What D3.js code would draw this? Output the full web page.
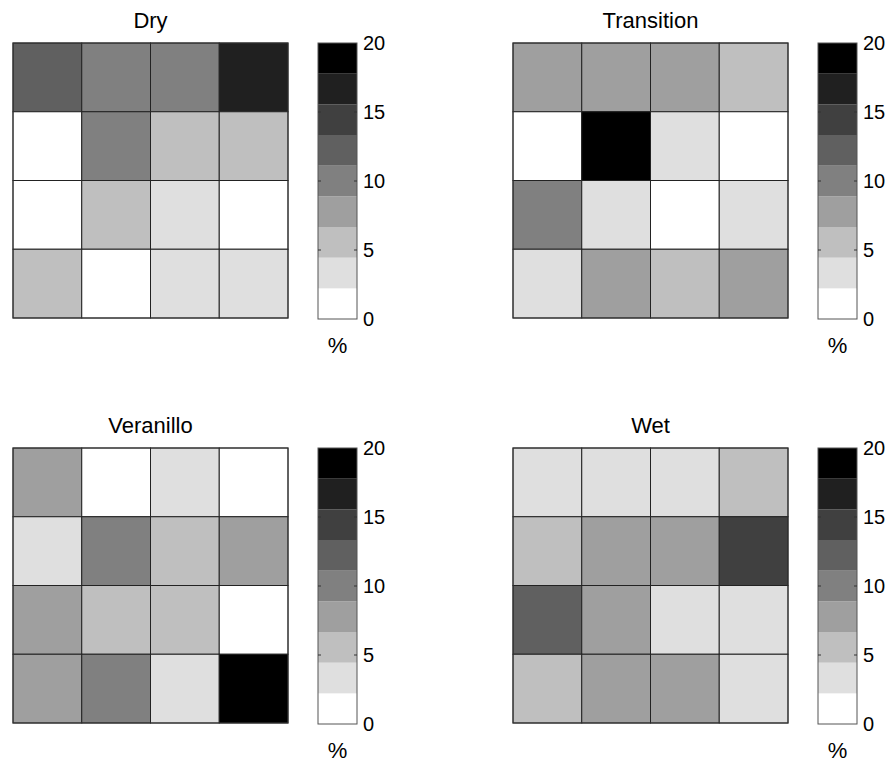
<!DOCTYPE html>
<html>
<head>
<meta charset="utf-8">
<script src="https://cdn.jsdelivr.net/npm/d3@7"></script>
<style>
  body { margin: 0; background: #fff; }
  text { font-family: "Liberation Sans", Arial, sans-serif; fill: #000; }
</style>
</head>
<body>
<div id="container"></div>
<script>
"use strict";

// percent values, rows top to bottom, columns left to right
const seasons = ["Dry", "Transition", "Veranillo", "Wet"];
const dry = [
  [12.0, 9.8, 10.3, 16.6],
  [0.9, 10.1, 5.4, 5.9],
  [1.5, 5.2, 3.1, 0.6],
  [5.0, 1.2, 3.4, 3.9]
];
const transition = [
  [7.6, 7.9, 8.1, 5.6],
  [0.8, 19.2, 3.3, 1.1],
  [9.9, 3.6, 0.7, 3.0],
  [3.5, 7.4, 5.8, 8.2]
];
const veranillo = [
  [7.8, 1.0, 3.2, 0.5],
  [3.7, 10.4, 5.5, 7.7],
  [8.0, 5.3, 6.0, 1.4],
  [7.5, 9.6, 3.4, 18.9]
];
const wet = [
  [3.4, 3.1, 3.6, 5.7],
  [6.1, 7.8, 8.3, 14.6],
  [12.4, 7.4, 3.2, 3.8],
  [5.5, 8.0, 7.9, 3.3]
];
const grids = [dry, transition, veranillo, wet];
const colorTicks = [0, 5, 10, 15, 20];

const W = 893, H = 762;
const svg = d3.select("#container").append("svg")
  .attr("width", W).attr("height", H);

// 9-step gray colormap, white at 0 to black at 20
const levels = 9;
const grays = d3.range(levels).map(function (i) {
  const v = Math.round(255 * (1 - i / (levels - 1)));
  return d3.rgb(v, v, v).toString();
});
const color = d3.scaleQuantize().domain([0, 20]).range(grays);

// panel origins (top-left of heat map)
const panelX = [13, 513];
const panelY = [43, 448];
const size = 275;
const cbGap = 30, cbW = 39;

grids.forEach(function (grid, k) {
  const ox = panelX[k % 2], oy = panelY[Math.floor(k / 2)];
  const g = svg.append("g").attr("transform", "translate(" + ox + "," + oy + ")");

  const x = d3.scaleBand().domain(d3.range(4)).range([0, size]);
  const y = d3.scaleBand().domain(d3.range(4)).range([0, size]);

  const cells = [];
  grid.forEach(function (row, r) {
    row.forEach(function (v, c) { cells.push({ r: r, c: c, v: v }); });
  });

  g.selectAll(".cell").data(cells).enter().append("rect")
    .attr("class", "cell")
    .attr("x", function (d) { return x(d.c); })
    .attr("y", function (d) { return y(d.r); })
    .attr("width", x.bandwidth())
    .attr("height", y.bandwidth())
    .attr("fill", function (d) { return color(d.v); })
    .attr("stroke", "#222")
    .attr("stroke-width", 1);

  g.append("rect")
    .attr("width", size).attr("height", size)
    .attr("fill", "none").attr("stroke", "#333");

  g.append("text")
    .attr("x", size / 2).attr("y", -15)
    .attr("text-anchor", "middle")
    .style("font-size", "22px")
    .text(seasons[k]);

  // colorbar
  const cb = g.append("g").attr("transform", "translate(" + (size + cbGap) + ",0)");
  const cy = d3.scaleLinear().domain([0, 20]).range([size + 1, 0]);
  const steps = d3.range(levels).map(function (i) { return i * 20 / levels; });

  cb.selectAll(".band").data(steps).enter().append("rect")
    .attr("class", "band")
    .attr("x", 0)
    .attr("y", function (d) { return cy(d + 20 / levels); })
    .attr("width", cbW)
    .attr("height", function (d) { return cy(d) - cy(d + 20 / levels); })
    .attr("fill", function (d) { return color(d + 0.01); });

  cb.append("rect")
    .attr("width", cbW).attr("y", cy(20)).attr("height", cy(0) - cy(20))
    .attr("fill", "none").attr("stroke", "#555");

  const inner = colorTicks.filter(function (t) { return t > 0 && t < 20; });
  cb.selectAll(".tl").data(inner).enter().append("line")
    .attr("x1", 0).attr("x2", 3)
    .attr("y1", function (d) { return cy(d); }).attr("y2", function (d) { return cy(d); })
    .attr("stroke", "#333");
  cb.selectAll(".tr").data(inner).enter().append("line")
    .attr("x1", cbW - 3).attr("x2", cbW)
    .attr("y1", function (d) { return cy(d); }).attr("y2", function (d) { return cy(d); })
    .attr("stroke", "#333");

  cb.selectAll(".lab").data(colorTicks).enter().append("text")
    .attr("x", cbW + 6)
    .attr("y", function (d) { return cy(d); })
    .attr("dy", "0.36em")
    .style("font-size", "20px")
    .text(function (d) { return d; });

  cb.append("text")
    .attr("x", cbW / 2).attr("y", size + 35)
    .attr("text-anchor", "middle")
    .style("font-size", "22px")
    .text("%");
});
</script>
</body>
</html>
